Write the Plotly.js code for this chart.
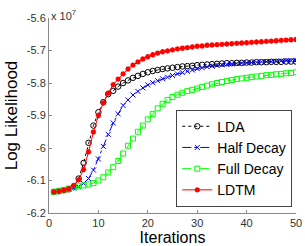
<!DOCTYPE html>
<html><head><meta charset="utf-8">
<script src="https://cdn.plot.ly/plotly-3.0.1.min.js"></script>
<style>html,body{margin:0;padding:0;background:#fff}#chart{width:305px;height:246px}</style>
</head><body><div id="chart"></div>
<script>
// values in units of 1e7
var iterations = [];
for (var i = 1; i <= 50; i++) iterations.push(i);
var lda = [-6.135,-6.133,-6.130,-6.127,-6.120,-6.094,-6.046,-5.984,-5.931,-5.890,
  -5.859,-5.834,-5.824,-5.811,-5.800,-5.792,-5.784,-5.778,-5.772,-5.767,
  -5.763,-5.760,-5.757,-5.755,-5.753,-5.751,-5.749,-5.748,-5.747,-5.745,
  -5.744,-5.743,-5.742,-5.741,-5.740,-5.739,-5.739,-5.738,-5.738,-5.737,
  -5.737,-5.736,-5.736,-5.736,-5.735,-5.735,-5.735,-5.734,-5.734,-5.734];
var halfDecay = [-6.135,-6.133,-6.130,-6.127,-6.123,-6.119,-6.109,-6.094,-6.068,-6.034,
  -5.995,-5.958,-5.923,-5.895,-5.869,-5.852,-5.837,-5.826,-5.815,-5.806,
  -5.799,-5.793,-5.787,-5.782,-5.777,-5.772,-5.768,-5.764,-5.760,-5.756,
  -5.753,-5.750,-5.748,-5.746,-5.744,-5.743,-5.741,-5.740,-5.739,-5.738,
  -5.737,-5.736,-5.735,-5.734,-5.734,-5.733,-5.732,-5.731,-5.731,-5.730];
var fullDecay = [-6.135,-6.132,-6.129,-6.125,-6.121,-6.118,-6.115,-6.112,-6.108,-6.100,
  -6.090,-6.075,-6.059,-6.040,-6.017,-5.993,-5.971,-5.950,-5.931,-5.912,
  -5.895,-5.878,-5.864,-5.852,-5.843,-5.836,-5.830,-5.825,-5.821,-5.817,
  -5.812,-5.808,-5.804,-5.800,-5.797,-5.794,-5.791,-5.788,-5.786,-5.784,
  -5.782,-5.780,-5.778,-5.776,-5.775,-5.773,-5.772,-5.770,-5.769,-5.767];
var ldtm = [-6.135,-6.133,-6.130,-6.125,-6.115,-6.098,-6.066,-6.012,-5.951,-5.900,
  -5.861,-5.831,-5.805,-5.788,-5.772,-5.757,-5.745,-5.735,-5.726,-5.719,
  -5.713,-5.708,-5.704,-5.701,-5.698,-5.695,-5.693,-5.691,-5.689,-5.687,
  -5.686,-5.684,-5.683,-5.682,-5.681,-5.680,-5.679,-5.678,-5.677,-5.676,
  -5.675,-5.674,-5.673,-5.672,-5.671,-5.670,-5.669,-5.668,-5.667,-5.666];
var yTickVals = [-6.2,-6.1,-6,-5.9,-5.8,-5.7,-5.6];
var yTickText = ['-6.2','-6.1','-6','-5.9','-5.8','-5.7','-5.6'];
var xTickVals = [0,10,20,30,40,50];

var traces = [
  {x: iterations, y: lda, name: 'LDA', mode: 'lines+markers',
   line: {color: '#000000', width: 1, dash: 'dot'},
   marker: {symbol: 'circle-open', size: 5.5, color: '#000000', line: {width: 1}}},
  {x: iterations, y: halfDecay, name: 'Half Decay', mode: 'lines+markers',
   line: {color: '#0000ff', width: 1, dash: 'dashdot'},
   marker: {symbol: 'x-thin-open', size: 5, color: '#0000ff', line: {width: 1, color: '#0000ff'}}},
  {x: iterations, y: fullDecay, name: 'Full Decay', mode: 'lines+markers',
   line: {color: '#00ff00', width: 1, dash: 'dash'},
   marker: {symbol: 'square-open', size: 5, color: '#00ff00', line: {width: 1}}},
  {x: iterations, y: ldtm, name: 'LDTM', mode: 'lines+markers',
   line: {color: '#ff0000', width: 1},
   marker: {symbol: 'asterisk-open', size: 4.5, color: '#ff0000', line: {width: 1.5, color: '#ff0000'}}}
];

var layout = {
  width: 305, height: 246,
  margin: {l: 49, r: 9, t: 18, b: 33, pad: 0},
  paper_bgcolor: '#ffffff', plot_bgcolor: '#ffffff',
  font: {family: 'Liberation Sans, Arial, sans-serif', color: '#222'},
  showlegend: true,
  legend: {x: 0.985, y: 0.53, xanchor: 'right', yanchor: 'top',
    bgcolor: '#ffffff', bordercolor: '#444', borderwidth: 1,
    font: {size: 14, color: '#000'}, itemwidth: 30, tracegroupgap: 0},
  xaxis: {range: [0, 50], tickvals: xTickVals, ticks: 'inside', ticklen: 3,
    tickcolor: '#888', showline: true, linecolor: '#888', linewidth: 1,
    showgrid: false, zeroline: false, tickfont: {size: 11, color: '#333'},
    title: {text: 'Iterations', font: {size: 16, color: '#000'}, standoff: 0}},
  yaxis: {range: [-6.2, -5.6], tickvals: yTickVals, ticktext: yTickText,
    ticks: 'inside', ticklen: 3, tickcolor: '#888', showline: true,
    linecolor: '#888', linewidth: 1, showgrid: false, zeroline: false,
    tickfont: {size: 11, color: '#333'},
    title: {text: 'Log Likelihood', font: {size: 17, color: '#000'}, standoff: 4}},
  annotations: [{xref: 'paper', yref: 'paper', x: 0, y: 1, xanchor: 'left', yanchor: 'bottom',
    text: 'x 10<sup>7</sup>', showarrow: false, font: {size: 11, color: '#333'}, yshift: -6}]
};
Plotly.newPlot('chart', traces, layout, {staticPlot: true, displayModeBar: false});
</script></body></html>
